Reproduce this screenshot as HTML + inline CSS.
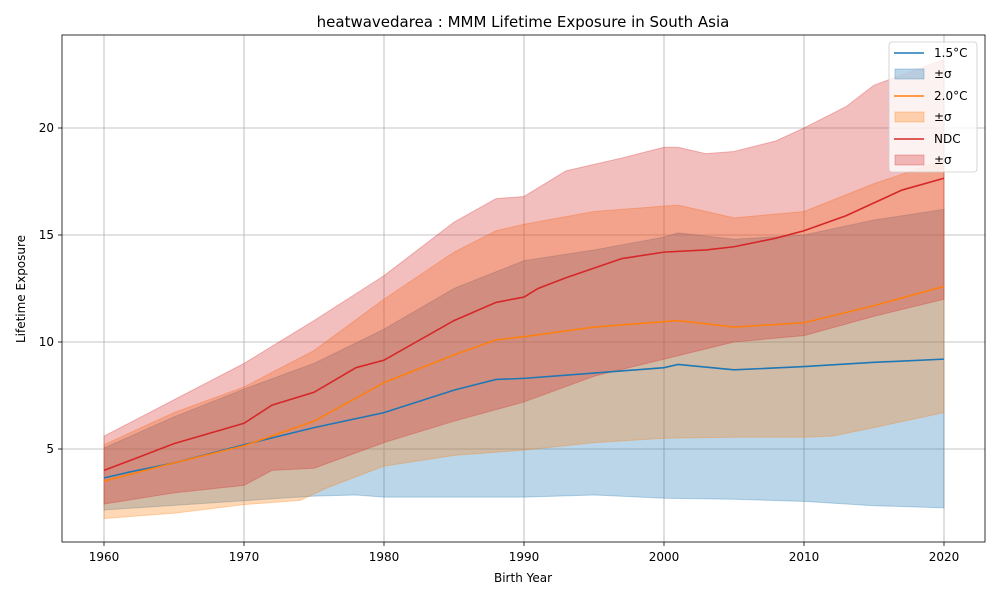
<!DOCTYPE html>
<html><head><meta charset="utf-8"><style>
body{margin:0;background:#fff;font-family:"Liberation Sans","DejaVu Sans",sans-serif}
svg text{font-family:"DejaVu Sans","Liberation Sans",sans-serif}
</style></head><body>
<svg id="chart" width="1000" height="600" xmlns="http://www.w3.org/2000/svg">
<rect width="1000" height="600" fill="#fff"/>
<text x="523" y="27" font-size="15" text-anchor="middle">heatwavedarea : MMM Lifetime Exposure in South Asia</text>
<g id="grid"></g><g id="bands"></g><g id="lines"></g><g id="axes"></g>
<text x="523" y="582" font-size="12" text-anchor="middle">Birth Year</text>
<text transform="translate(25,289) rotate(-90)" font-size="12" text-anchor="middle">Lifetime Exposure</text>
<g id="legend"></g>
</svg>
<script>
const xTicks=[1960,1970,1980,1990,2000,2010,2020];
const yTicks=[5,10,15,20];
const seriesNames=["1.5°C","2.0°C","NDC"];
const seriesColors=["#1f77b4","#ff7f0e","#d62728"];
const meanYears15=[1960,1962,1965,1970,1975,1980,1985,1988,1990,1995,2000,2001,2005,2010,2015,2020];
const mean15=[3.65,3.95,4.35,5.2,6.0,6.7,7.75,8.25,8.3,8.55,8.8,8.95,8.7,8.85,9.05,9.2];
const meanYears20=[1960,1965,1970,1975,1980,1985,1988,1990,1995,2001,2005,2010,2015,2020];
const mean20=[3.5,4.35,5.15,6.3,8.1,9.4,10.1,10.25,10.7,11.0,10.7,10.9,11.7,12.6];
const meanYearsNDC=[1960,1962,1965,1970,1972,1975,1978,1980,1985,1988,1990,1991,1993,1997,2000,2003,2005,2008,2010,2013,2015,2017,2020];
const meanNDC=[4.0,4.5,5.25,6.2,7.05,7.65,8.8,9.15,11.0,11.85,12.1,12.5,13.0,13.9,14.2,14.3,14.45,14.85,15.2,15.9,16.5,17.1,17.65];
const upYears15=[1960,1965,1970,1975,1980,1985,1990,1995,2000,2001,2005,2010,2015,2020];
const upper15=[5.05,6.5,7.8,9.0,10.6,12.5,13.8,14.3,14.9,15.1,14.8,15.0,15.7,16.2];
const loYears15=[1960,1975,1978,1980,1990,1995,2000,2005,2010,2015,2020];
const lower15=[2.15,2.8,2.85,2.75,2.75,2.85,2.7,2.65,2.55,2.35,2.25];
const upYears20=[1960,1965,1970,1975,1980,1985,1988,1990,1995,2001,2005,2010,2015,2020];
const upper20=[5.2,6.7,7.9,9.6,12.0,14.2,15.2,15.5,16.1,16.4,15.8,16.1,17.4,18.5];
const loYears20=[1960,1965,1970,1974,1976,1980,1985,1990,1995,2000,2005,2010,2012,2015,2020];
const lower20=[1.75,2.0,2.4,2.6,3.2,4.2,4.7,4.95,5.3,5.5,5.55,5.55,5.6,6.0,6.7];
const upYearsNDC=[1960,1965,1970,1975,1980,1985,1988,1990,1993,1997,2000,2001,2003,2005,2008,2010,2013,2015,2020];
const upperNDC=[5.6,7.3,9.0,11.0,13.1,15.6,16.7,16.8,18.0,18.6,19.1,19.1,18.8,18.9,19.4,20.0,21.0,22.0,23.2];
const loYearsNDC=[1960,1965,1970,1972,1975,1980,1985,1990,1995,2000,2005,2010,2015,2020];
const lowerNDC=[2.43,2.95,3.3,4.0,4.1,5.3,6.3,7.2,8.4,9.2,10.0,10.3,11.2,12.0];

const L=62,R=985,T=35,B=542;
const X=y=>104+(y-1960)*14;
const Y=v=>556-v*21.4;
const NS="http://www.w3.org/2000/svg";
function mk(tag,attrs,parent){const e=document.createElementNS(NS,tag);for(const k in attrs)e.setAttribute(k,attrs[k]);parent.appendChild(e);return e;}
const g=document.getElementById('grid'),ax=document.getElementById('axes'),bands=document.getElementById('bands'),lines=document.getElementById('lines'),lg=document.getElementById('legend');
xTicks.forEach(t=>{
 const l=mk('line',{x1:X(t),x2:X(t),y1:T,y2:B,stroke:'#b0b0b0','stroke-width':0.8},g);
 
 
 mk('line',{x1:X(t),x2:X(t),y1:B,y2:B+4,stroke:'#000','stroke-width':0.8},ax);
 const tx=mk('text',{x:X(t),y:B+19,'font-size':12,'text-anchor':'middle'},ax);tx.textContent=t;
 
 
});
yTicks.forEach(t=>{
 const l=mk('line',{x1:L,x2:R,y1:Y(t),y2:Y(t),stroke:'#b0b0b0','stroke-width':0.8},g);
 
 
 mk('line',{x1:L-4,x2:L,y1:Y(t),y2:Y(t),stroke:'#000','stroke-width':0.8},ax);
 const tx=mk('text',{x:L-8,y:Y(t)+4,'font-size':12,'text-anchor':'end'},ax);tx.textContent=t;
 
 
});
const fr=mk('rect',{x:L,y:T,width:R-L,height:B-T,fill:'none',stroke:'#000','stroke-width':0.8},ax);


const bandData=[[upYears15,upper15,loYears15,lower15],[upYears20,upper20,loYears20,lower20],[upYearsNDC,upperNDC,loYearsNDC,lowerNDC]];
const meanData=[[meanYears15,mean15],[meanYears20,mean20],[meanYearsNDC,meanNDC]];
const keys=['15','20','ndc'];
bandData.forEach((b,i)=>{
 let d='M'+b[0].map((y,j)=>X(y)+','+Y(b[1][j])).join(' L');
 d+=' L'+b[2].map((y,j)=>X(y)+','+Y(b[3][j])).reverse().join(' L')+' Z';
 const p=mk('path',{d:d,fill:seriesColors[i],'fill-opacity':0.3,stroke:seriesColors[i],'stroke-opacity':0.3,'stroke-width':1},bands);
 
 
});
meanData.forEach((m,i)=>{
 const pts=m[0].map((y,j)=>X(y)+','+Y(m[1][j])).join(' ');
 const p=mk('polyline',{points:pts,fill:'none',stroke:seriesColors[i],'stroke-width':1.6},lines);
 
 
});
mk('rect',{x:889,y:42,width:88,height:130,rx:3,fill:'#fff','fill-opacity':0.8,stroke:'#ccc','stroke-width':0.8},lg);
seriesNames.forEach((n,i)=>{
 const y1=53+i*43,y2=y1+21;
 const ln=mk('line',{x1:894,x2:924,y1:y1,y2:y1,stroke:seriesColors[i],'stroke-width':1.6},lg);
 
 
 const t1=mk('text',{x:934,y:y1+4,'font-size':12},lg);t1.textContent=n;
 
 
 const r=mk('rect',{x:895,y:y2-5,width:29,height:10,fill:seriesColors[i],'fill-opacity':0.3,stroke:seriesColors[i],'stroke-opacity':0.3},lg);
 
 
 const t2=mk('text',{x:934,y:y2+4,'font-size':12},lg);t2.textContent='±σ';
 
 
});
</script>
</body></html>
